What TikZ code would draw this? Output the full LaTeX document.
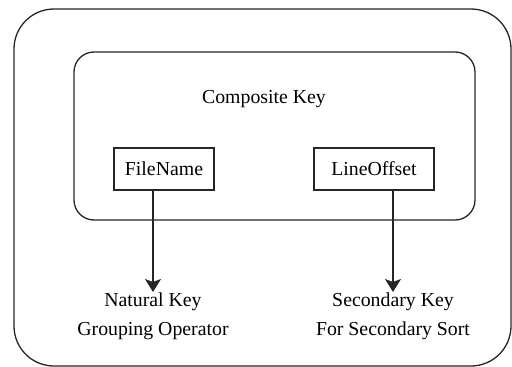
\documentclass[tikz,border=0pt]{standalone}
\usepackage{fontspec}
\setmainfont{Liberation Serif}
\usetikzlibrary{arrows.meta}
\begin{document}
\begin{tikzpicture}[x=1pt,y=-1pt,
  frame/.style={draw=black!85,line width=1.3pt},
  keybox/.style={draw=black!85,line width=1.3pt,minimum width=100pt,minimum height=42pt,inner sep=0pt},
  lbl/.style={font=\fontsize{19.8}{29}\selectfont,align=center,inner sep=0pt},
  link/.style={draw=black!85,line width=1.3pt,-{Stealth[length=13pt,width=16pt,inset=3pt]}}]
  \useasboundingbox (0,0) rectangle (512,367);
  % outer and inner frames
  \draw[frame,rounded corners=40pt] (14,9) rectangle (511,366);
  \draw[frame,rounded corners=20pt] (74,52) rectangle (475,220);
  \node[lbl] (ck) at (264,99) {Composite Key};
  % key fields
  \node[keybox] (fn) at (164,169) {\fontsize{19.8}{24}\selectfont FileName};
  \node[keybox,minimum width=120pt] (lo) at (374,169) {\fontsize{19.8}{24}\selectfont LineOffset};
  % targets
  \coordinate (nk) at (153,292);
  \coordinate (sk) at (393,292);
  \node[lbl] (nat) at (153,316) {Natural Key\\Grouping Operator};
  \node[lbl] (sec) at (393,316) {Secondary Key\\For Secondary Sort};
  \draw[link] (fn.south -| nk) -- (nk);
  \draw[link] (lo.south -| sk) -- (sk);
\end{tikzpicture}
\end{document}
